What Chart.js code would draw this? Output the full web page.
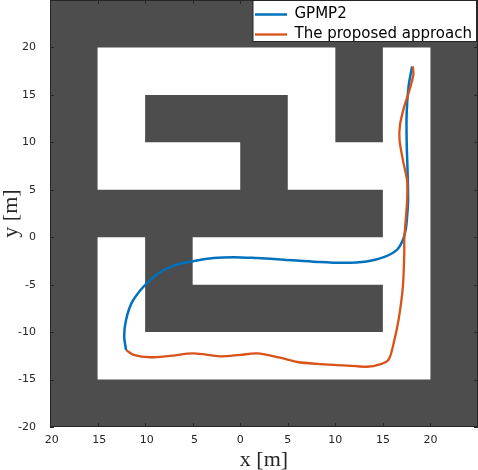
<!DOCTYPE html>
<html><head><meta charset="utf-8">
<style>html,body{margin:0;padding:0;background:#fff}#w{width:478px;height:470px;position:relative}</style>
<script src="https://cdn.jsdelivr.net/npm/chart.js@4/dist/chart.umd.min.js"></script>
</head><body><div id="w"><canvas id="c" width="478" height="470"></canvas></div>
<script>
const xTicks=[-20,-15,-10,-5,0,5,10,15,20,25];
const yTicks=[-20,-15,-10,-5,0,5,10,15,20,25];
const mapX=[-20,25,25,-20,-20];
const mapY=[-20,-20,25,25,-20];
const freeX=[-15,10,10,15,15,20,20,-15,-15,-10,-10,15,15,-5,-5,15,15,5,5,-10,-10,0,0,-15,-15];
const freeY=[20,20,10,10,20,20,-15,-15,0,0,-10,-10,-5,-5,0,0,5,5,15,15,10,10,5,5,20];
const gpmpX=[18.07,17.7,17.5,17.5,17.6,17.65,17.55,17.4,17.1,16.5,15.1,13.3,10.9,8.1,4.6,1.75,-0.7,-2.8,-5.1,-7,-8.8,-10.2,-11.4,-12,-12.2,-12];
const gpmpY=[18,15.9,13.1,10.1,6.8,3.95,2.2,0.8,-0.3,-1.3,-2.1,-2.55,-2.7,-2.6,-2.37,-2.2,-2.1,-2.2,-2.55,-3,-3.95,-5.25,-6.9,-8.7,-10.4,-11.9];
const propX=[18.15,18.2,17.7,17.25,16.8,16.75,17.1,17.55,17.55,17.4,17.25,17.25,17.1,16.65,16.1,15.6,14.7,13.3,10.9,8.1,6,4.2,1.75,0,-2.1,-4.9,-7.4,-9.5,-11.2,-12];
const propY=[18,17.1,15.2,13.8,11.85,10.25,8.15,5.9,3.95,1.85,-0.25,-1.65,-5.2,-8.7,-11.3,-12.9,-13.4,-13.65,-13.5,-13.35,-13.15,-12.7,-12.25,-12.4,-12.55,-12.25,-12.5,-12.65,-12.4,-11.9];
const DARK='#4d4d4d',BLUE='#0072bd',ORANGE='#d95319',INK='#262626';
const polyDs=(xs,ys,color,order)=>({label:'',order,data:xs.map((x,i)=>({x,y:ys[i]})),
  showLine:true,fill:'shape',backgroundColor:color,borderColor:color,borderWidth:0,pointRadius:0,tension:0});
const lineDs=(label,xs,ys,color,w,order)=>({label,order,data:xs.map((x,i)=>({x,y:ys[i]})),showLine:true,fill:false,borderColor:color,backgroundColor:color,borderWidth:w,pointRadius:0,pointStyle:'line',tension:0.3});
const noPad=s=>{s.paddingTop=0;s.paddingBottom=0;s.paddingLeft=0;s.paddingRight=0;};
const frame={id:'frame',
  afterLayout(ch){const l=ch.legend;l.left=250;l.top=2;},
  afterDatasetsDraw(ch){
    const {ctx,chartArea:a,scales:{x,y}}=ch;
    ctx.save();ctx.strokeStyle=INK;ctx.lineWidth=1;
    ctx.beginPath();
    xTicks.forEach(t=>{const p=Math.round(x.getPixelForValue(t))+.5;ctx.moveTo(p,a.bottom);ctx.lineTo(p,a.bottom-4);ctx.moveTo(p,a.top);ctx.lineTo(p,a.top+4);});
    yTicks.forEach(t=>{const p=Math.round(y.getPixelForValue(t))+.5;ctx.moveTo(a.left,p);ctx.lineTo(a.left+4,p);ctx.moveTo(a.right,p);ctx.lineTo(a.right-4,p);});
    ctx.stroke();
    ctx.strokeRect(a.left+.5,a.top+.5,a.right-a.left-1,a.bottom-a.top-1);
    ctx.fillStyle='#fff';ctx.fillRect(253,1,223.5,40.5);ctx.strokeRect(253,.5,223.5,41);
    ctx.restore();
    ch.legend.draw();
  }};
new Chart(document.getElementById('c'),{type:'scatter',
 data:{datasets:[lineDs('GPMP2',gpmpX,gpmpY,BLUE,2.5,1),lineDs('The proposed approach',propX,propY,ORANGE,2.3,0),
   polyDs(freeX,freeY,'#fff',2),polyDs(mapX,mapY,DARK,3)]},
 plugins:[frame],
 options:{responsive:false,animation:false,layout:{padding:0},
  plugins:{tooltip:{enabled:false},title:{display:false},
   legend:{position:'chartArea',align:'start',labels:{usePointStyle:true,pointStyleWidth:32,padding:5,color:'#000',font:{family:'DejaVu Sans',size:15},filter:i=>i.text!=='',sort:(a,b)=>a.datasetIndex-b.datasetIndex}}},
  scales:{
   x:{type:'linear',min:-20,max:25,afterFit(s){s.height=43;noPad(s);},afterBuildTicks(s){s.ticks=xTicks.map(v=>({value:v}));},
      grid:{display:false},border:{display:false},
      ticks:{autoSkip:false,maxRotation:0,padding:-1,color:INK,font:{family:'DejaVu Sans',size:11},callback:v=>v===25?'':(v<0?'\u00a0':'')+Math.abs(v)},
      title:{display:true,text:'x [m]',color:INK,padding:{top:0,bottom:-3},font:{family:'Liberation Serif',size:22}}},
   y:{type:'linear',min:-20,max:25,afterFit(s){s.width=50;noPad(s);},afterBuildTicks(s){s.ticks=yTicks.map(v=>({value:v}));},
      grid:{display:false},border:{display:false},
      ticks:{autoSkip:false,padding:6,color:INK,font:{family:'DejaVu Sans',size:11},callback:v=>v===25?'':String(v)},
      title:{display:true,text:'y [m]',color:INK,padding:{top:-2,bottom:0},font:{family:'Liberation Serif',size:22}}}
  }}});
</script></body></html>
